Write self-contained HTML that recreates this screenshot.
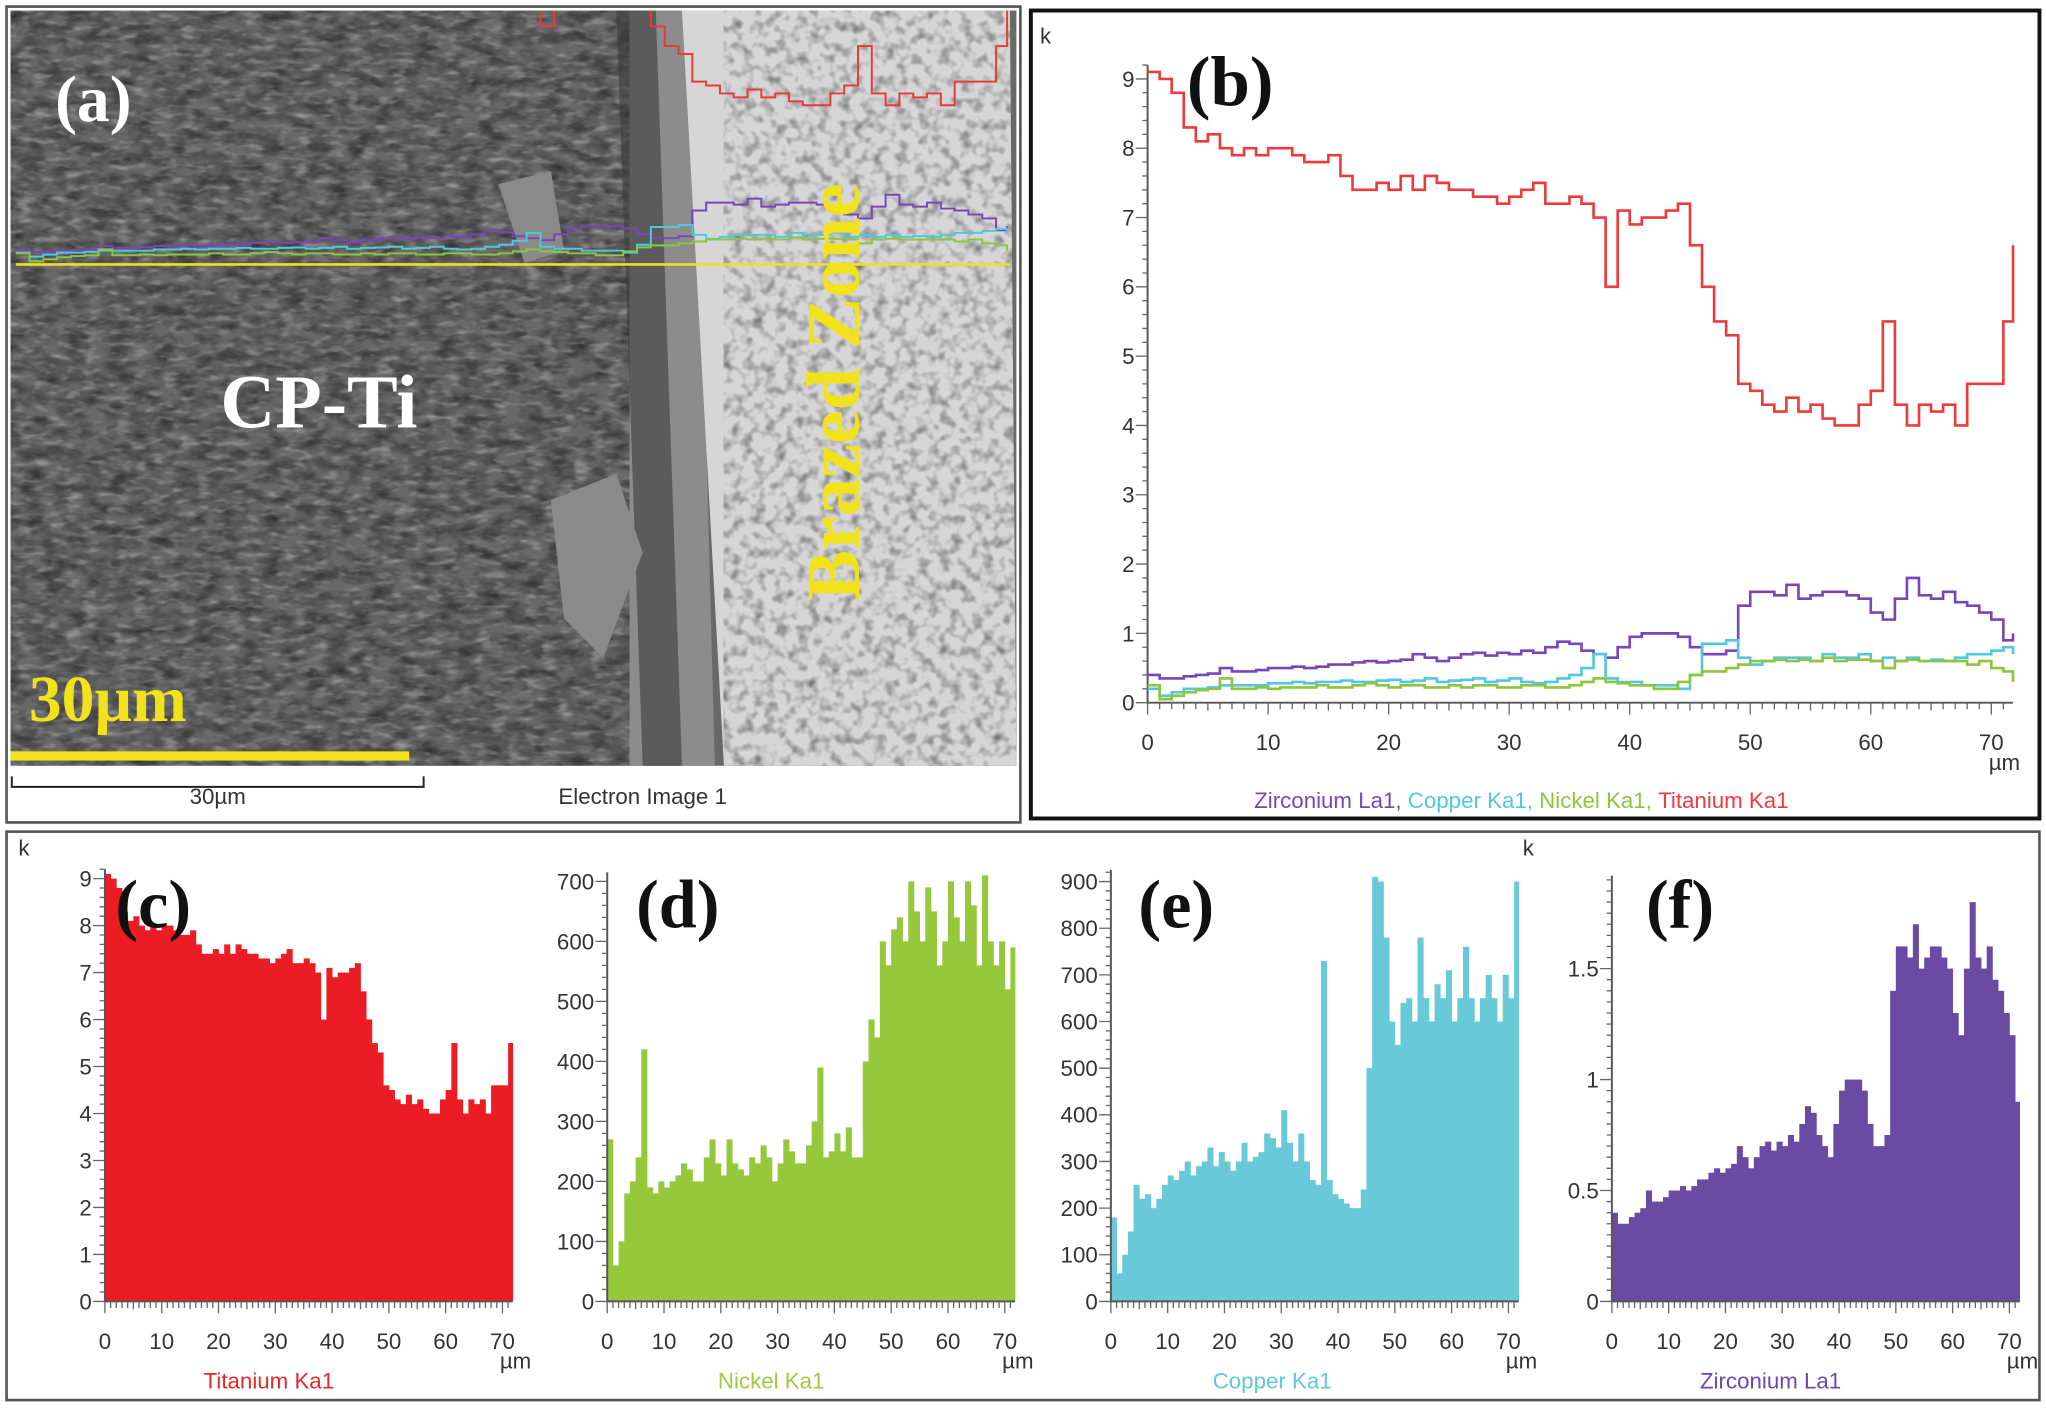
<!DOCTYPE html>
<html><head><meta charset="utf-8"><style>
html,body{margin:0;padding:0;background:#fff;width:2046px;height:1408px;overflow:hidden}
svg{display:block}
.lbl{font-family:"Liberation Sans",sans-serif;font-size:17px;fill:#333}
.let{font-family:"Liberation Serif",serif;font-weight:bold;fill:#111}
</style></head><body>
<svg id="fig" width="2046" height="1408" viewBox="0 0 1560 1070" preserveAspectRatio="none" xmlns="http://www.w3.org/2000/svg">
<defs>
<filter id="noiseDark" x="0" y="0" width="100%" height="100%">
<feTurbulence type="fractalNoise" baseFrequency="0.06 0.12" numOctaves="3" seed="3"/>
<feColorMatrix type="matrix" values="0 0 0 0 0  0 0 0 0 0  0 0 0 0 0  0.9 0 0 0 -0.3"/>
</filter>
<filter id="noiseLight" x="0" y="0" width="100%" height="100%">
<feTurbulence type="fractalNoise" baseFrequency="0.08 0.2" numOctaves="2" seed="11"/>
<feColorMatrix type="matrix" values="0 0 0 0 1  0 0 0 0 1  0 0 0 0 1  0.8 0 0 0 -0.4"/>
</filter>
<filter id="noiseBright" x="0" y="0" width="100%" height="100%">
<feTurbulence type="fractalNoise" baseFrequency="0.12" numOctaves="2" seed="7"/>
<feColorMatrix type="matrix" values="0 0 0 0 0.15  0 0 0 0 0.15  0 0 0 0 0.15  2.0 0 0 0 -0.9"/>
</filter>
<clipPath id="semClip"><rect x="8" y="8" width="767" height="574"/></clipPath>
</defs>

<!-- Panel a -->
<g>
<rect x="5" y="5" width="773" height="620" fill="#fff" stroke="#555" stroke-width="2"/>
<g clip-path="url(#semClip)">
<rect x="8" y="8" width="767" height="574" fill="#686868"/>
<rect x="8" y="8" width="500" height="574" filter="url(#noiseDark)"/>
<rect x="8" y="8" width="500" height="574" filter="url(#noiseLight)"/>
<polygon points="480,8 530,8 545,582 480,582" fill="#8c8c8c"/>
<polygon points="470,8 500,8 520,582 490,582" fill="#3a3a3a" opacity="0.6"/>
<polygon points="520,8 770,8 775,582 552,582" fill="#d6d6d6"/>
<rect x="552" y="8" width="223" height="574" filter="url(#noiseBright)"/>
<polygon points="420,380 470,360 490,420 460,500 430,470" fill="#8a8a8a"/>
<polygon points="380,140 420,130 430,190 400,200" fill="#8a8a8a"/>
<path id="aRed" fill="none" stroke="#e8393b" stroke-width="1.5"/>
<path id="aZr" fill="none" stroke="#7a45b8" stroke-width="1.5"/>
<path id="aCu" fill="none" stroke="#52c8dc" stroke-width="1.5"/>
<path id="aNi" fill="none" stroke="#8cc63e" stroke-width="1.5"/>
<line x1="12" y1="201" x2="770" y2="201" stroke="#f0e020" stroke-width="2"/>
</g>
<text class="let" x="42" y="92" font-size="50" style="fill:#fff">(a)</text>
<text class="let" x="168" y="325" font-size="58" style="fill:#fff">CP-Ti</text>
<text class="let" x="0" y="0" font-size="58" style="fill:#f2e21c" transform="translate(655,298) rotate(-90)" text-anchor="middle">Brazed Zone</text>
<text class="let" x="22" y="548" font-size="50" style="fill:#f2e21c">30µm</text>
<rect x="8" y="571" width="304" height="7" fill="#f2e21c"/>
<path d="M9,590 V598 H323 V590" fill="none" stroke="#222" stroke-width="1.5"/>
<text class="lbl" x="166" y="611" text-anchor="middle" font-size="18">30µm</text>
<text class="lbl" x="490" y="611" text-anchor="middle" font-size="18">Electron Image 1</text>
</g>

<!-- Panel b -->
<g id="pb">
<rect x="786" y="8" width="769" height="614" fill="#fff" stroke="#111" stroke-width="3"/>
<text class="lbl" x="793" y="33" font-size="15">k</text>
<text class="let" x="905" y="80" font-size="54">(b)</text>
</g>

<!-- Bottom -->
<g id="bottom">
<rect x="5" y="632" width="1550" height="432" fill="none" stroke="#555" stroke-width="2"/>
<text class="lbl" x="14" y="650" font-size="14">k</text>
<text class="lbl" x="1161" y="650" font-size="14">k</text>
</g>
</svg>
<script>
// Panel b data (x in µm, 1 µm steps; values in k counts)
const xMicron = [0,10,20,30,40,50,60,70];
const bYTicks = [0,1,2,3,4,5,6,7,8,9];
const titanium = [9.1,9.0,8.8,8.3,8.1,8.2,8.0,7.9,8.0,7.9,8.0,8.0,7.9,7.8,7.8,7.9,7.6,7.4,7.4,7.5,7.4,7.6,7.4,7.6,7.5,7.4,7.4,7.3,7.3,7.2,7.3,7.4,7.5,7.2,7.2,7.3,7.2,7.0,6.0,7.1,6.9,7.0,7.0,7.1,7.2,6.6,6.0,5.5,5.3,4.6,4.5,4.3,4.2,4.4,4.2,4.3,4.1,4.0,4.0,4.3,4.5,5.5,4.3,4.0,4.3,4.2,4.3,4.0,4.6,4.6,4.6,5.5,6.6];
const zirconium = [0.4,0.35,0.35,0.38,0.4,0.42,0.5,0.45,0.45,0.47,0.5,0.5,0.52,0.5,0.52,0.55,0.55,0.58,0.6,0.58,0.6,0.62,0.7,0.65,0.6,0.65,0.7,0.72,0.68,0.72,0.7,0.75,0.72,0.8,0.88,0.85,0.75,0.7,0.65,0.8,0.95,1.0,1.0,1.0,0.95,0.8,0.7,0.7,0.75,1.4,1.6,1.6,1.55,1.7,1.5,1.55,1.6,1.6,1.55,1.5,1.3,1.2,1.5,1.8,1.55,1.5,1.6,1.45,1.4,1.3,1.2,0.9,1.0];
const copper = [0.2,0.1,0.15,0.2,0.2,0.22,0.25,0.25,0.25,0.25,0.28,0.28,0.3,0.28,0.3,0.3,0.32,0.3,0.3,0.32,0.33,0.3,0.32,0.35,0.3,0.32,0.33,0.35,0.3,0.32,0.35,0.3,0.28,0.3,0.35,0.4,0.5,0.7,0.35,0.3,0.3,0.25,0.25,0.25,0.2,0.4,0.85,0.85,0.9,0.65,0.55,0.6,0.65,0.65,0.65,0.6,0.7,0.65,0.65,0.7,0.6,0.65,0.6,0.65,0.6,0.62,0.6,0.65,0.7,0.7,0.75,0.8,0.7];
const nickel = [0.25,0.05,0.1,0.15,0.18,0.2,0.35,0.2,0.2,0.22,0.2,0.22,0.22,0.22,0.25,0.22,0.22,0.25,0.28,0.25,0.22,0.25,0.25,0.22,0.22,0.25,0.22,0.25,0.25,0.22,0.22,0.25,0.25,0.22,0.22,0.25,0.3,0.35,0.3,0.28,0.25,0.25,0.2,0.2,0.3,0.4,0.45,0.45,0.5,0.55,0.6,0.6,0.62,0.6,0.62,0.6,0.65,0.6,0.62,0.62,0.6,0.5,0.6,0.62,0.6,0.6,0.6,0.6,0.55,0.6,0.5,0.45,0.3];
// Histogram data (counts)
const nickelCounts = [270,60,100,180,200,240,420,190,180,200,190,200,210,230,220,200,200,240,270,230,210,270,230,220,210,240,230,260,240,200,230,270,250,230,230,260,300,390,240,250,280,250,290,240,240,400,470,440,600,560,620,640,600,700,650,600,690,650,560,600,700,640,600,700,660,560,710,600,560,600,520,590,310];
const copperCounts = [180,60,100,150,250,220,230,200,220,250,270,260,280,300,270,290,300,330,290,320,300,280,300,340,300,310,320,360,350,330,410,340,300,360,300,260,250,730,260,230,220,210,200,200,240,500,910,900,780,600,550,640,650,600,780,650,600,680,650,710,600,650,760,650,600,650,700,650,600,700,650,900,300];
const ySets = {
  c:[0,1,2,3,4,5,6,7,8,9],
  d:[0,100,200,300,400,500,600,700],
  e:[0,100,200,300,400,500,600,700,800,900],
  f:[0,0.5,1,1.5]
};
const XEND = 71.8;

const NS='http://www.w3.org/2000/svg';
function mk(tag, attrs, parent){const e=document.createElementNS(NS,tag);for(const k in attrs)e.setAttribute(k,attrs[k]);parent.appendChild(e);return e;}
function stepPath(vals,X,Y){let d='M'+X(0)+','+Y(vals[0]);for(let i=0;i<vals.length;i++){if(i>0)d+=' V'+Y(vals[i]);d+=' H'+X(Math.min(i+1,XEND));}return d;}

// Panel a traces
const aX = i => 12 + i*(758/72);
const aY = v => 200 - v*30;
document.getElementById('aRed').setAttribute('d', stepPath(titanium,aX,aY));
document.getElementById('aZr').setAttribute('d', stepPath(zirconium,aX,v=>aY(v)+2));
document.getElementById('aCu').setAttribute('d', stepPath(copper,aX,v=>aY(v)-2));
document.getElementById('aNi').setAttribute('d', stepPath(nickel,aX,aY));

function axes(g, x0, xPer10, y0, yPx, yTicks, yMinorStep, yMax, fmt){
  const X = v => x0 + v*xPer10/10;
  const Y = v => y0 - v*yPx;
  const top = Y(yMax);
  const ax = mk('path',{d:'M'+x0+','+top+' V'+y0+' H'+X(XEND),stroke:'#555','stroke-width':1.5,fill:'none'},g);
  
  
  let d='';
  for(let i=0;i<=71;i++){const len=i%10===0?9:(i%5===0?6:5);d+='M'+X(i)+','+y0+' v'+len;}
  for(let v=0;v<=yMax+1e-9;v+=yMinorStep){d+='M'+x0+','+Y(v)+' h-4';}
  yTicks.forEach(v=>{d+='M'+x0+','+Y(v)+' h-9';});
  const tk = mk('path',{d:d,stroke:'#666','stroke-width':1,fill:'none'},g);
  
  
  xMicron.forEach(v=>{const t=mk('text',{x:X(v),y:y0+36,'text-anchor':'middle',class:'lbl','font-size':18},g);t.textContent=v;
    
    });
  yTicks.forEach(v=>{const t=mk('text',{x:x0-10,y:Y(v)+6,'text-anchor':'end',class:'lbl','font-size':18},g);t.textContent=fmt?fmt(v):v;
    
    });
  const u=mk('text',{x:X(70)+10,y:y0+51,'text-anchor':'middle',class:'lbl','font-size':16},g);u.textContent='µm';
  
  
  return {X,Y};
}

// Panel b
const pb=document.getElementById('pb');
const B = axes(pb, 875, 91.9, 534, 52.67, bYTicks, 0.2, 9.2);
[[titanium,'#ee3a3c','titanium-line'],[zirconium,'#7a45b8','zirconium-line'],[copper,'#52c8dc','copper-line'],[nickel,'#8cc63e','nickel-line']].forEach(([arr,c,n])=>{
  const p=mk('path',{d:stepPath(arr,B.X,B.Y),stroke:c,'stroke-width':2,fill:'none'},pb);
  
  
});
const leg=mk('text',{x:1160,y:614,'text-anchor':'middle',class:'lbl','font-size':19},pb);


[['Zirconium La1, ','#7a45b8'],['Copper Ka1, ','#52c8dc'],['Nickel Ka1, ','#8cc63e'],['Titanium Ka1','#ee3a3c']].forEach(([t,c])=>{const s=mk('tspan',{fill:c},leg);s.textContent=t;});

// Bottom histograms
const bot=document.getElementById('bottom');
const panels=[
 {id:'c',x0:80,vals:titanium,yPx:35.7,max:9.2,minor:0.2,color:'#ec1c24',label:'Titanium Ka1',lc:'#e8262c',lx:205,letter:'(c)',letx:88},
 {id:'d',x0:463,vals:nickelCounts,yPx:0.456,max:715,minor:20,color:'#95c83a',label:'Nickel Ka1',lc:'#9ccc40',lx:588,letter:'(d)',letx:485},
 {id:'e',x0:847,vals:copperCounts,yPx:0.3545,max:925,minor:20,color:'#68cad9',label:'Copper Ka1',lc:'#60c8dc',lx:970,letter:'(e)',letx:868},
 {id:'f',x0:1229,vals:zirconium,yPx:168.6,max:1.92,minor:0.05,color:'#6a4aa3',label:'Zirconium La1',lc:'#6e47a8',lx:1350,letter:'(f)',letx:1255}
];
panels.forEach(P=>{
  const g=mk('g',{},bot);
  
  
  const A={X:v=>P.x0+v*4.33,Y:v=>989-v*P.yPx};
  P.vals.forEach((v,i)=>{
    if(i>=XEND) return;
    const r=mk('rect',{x:A.X(i),y:A.Y(v),width:A.X(Math.min(i+1,XEND))-A.X(i)+0.3,height:989-A.Y(v),fill:P.color},g);
    
    
  });
  axes(g,P.x0,43.3,989,P.yPx,ySets[P.id],P.minor,P.max);
  const l=mk('text',{x:P.lx,y:1055,'text-anchor':'middle',class:'lbl','font-size':17,style:'fill:'+P.lc},g);l.textContent=P.label;
  
  
  const t=mk('text',{x:P.letx,y:705,class:'let','font-size':52},g);t.textContent=P.letter;
  
  
});
</script>
</body></html>
